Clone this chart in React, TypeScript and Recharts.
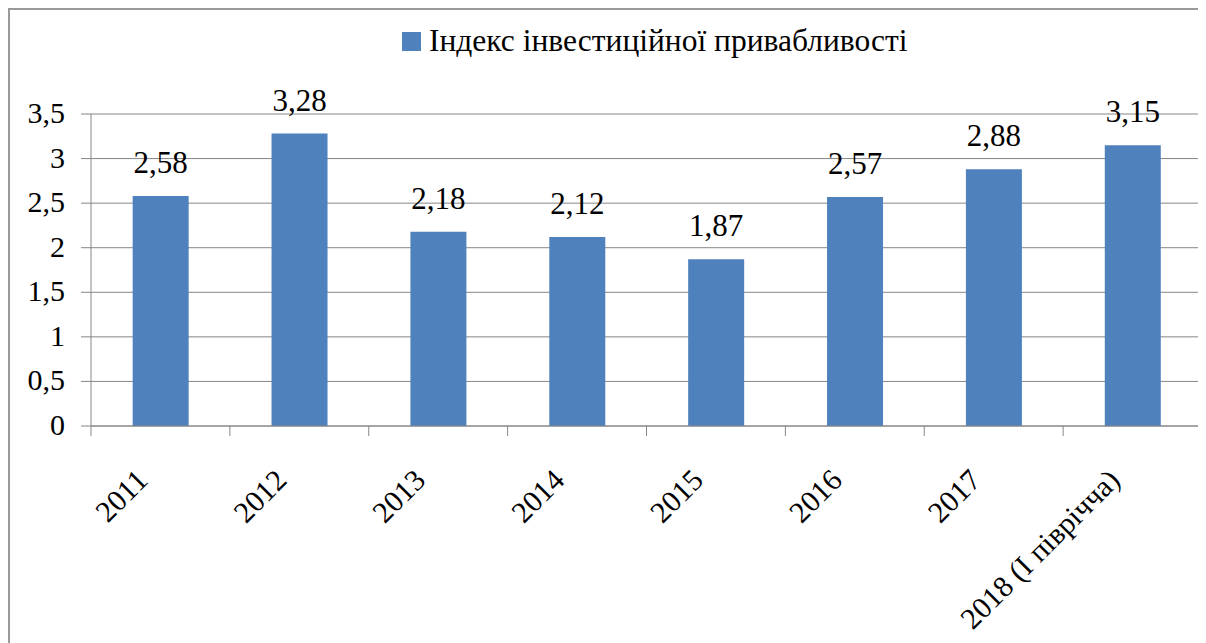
import { BarChart, Bar, XAxis, YAxis, CartesianGrid, Legend, LabelList } from "recharts"

// values
const categories = ["2011", "2012", "2013", "2014", "2015", "2016", "2017", "2018 (І півріччa)"]
const indexValues = [2.58, 3.28, 2.18, 2.12, 1.87, 2.57, 2.88, 3.15]
const yTicks = [0, 0.5, 1, 1.5, 2, 2.5, 3, 3.5]
const seriesName = "Індекс інвестиційної привабливості"

const FONT = "Liberation Serif"
const BLUE = "#4F81BD"
const GRID = "#868686"

const comma = (v: any) => String(v).replace(".", ",")

const data = categories.map((name, i) => ({ name, value: indexValues[i] }))

// category tick: boundary tick marks (Excel style) + rotated label
function CategoryTick(props: any) {
  const { x, y, payload, index } = props
  const half = payload?.offset || 0
  return (
    <g>
      <line x1={x - half} y1={y} x2={x - half} y2={y + 10} stroke={GRID} />
      {index === categories.length - 1 && (
        <line x1={x + half} y1={y} x2={x + half} y2={y + 10} stroke={GRID} />
      )}
      <text
        transform={`translate(${x - 11},${y + 56}) rotate(-45)`}
        textAnchor="end"
        fontSize={30}
        fontFamily={FONT}
        fill="#000"
      >
        {payload.value}
      </text>
    </g>
  )
}

function ValueTick(props: any) {
  const { x, y, payload } = props
  return (
    <text x={x} y={y} dy={9} textAnchor="end" fontSize={30} fontFamily={FONT} fill="#000">
      {comma(payload.value)}
    </text>
  )
}

function BarLabel(props: any) {
  const { x, y, width, value } = props
  return (
    <text x={x + width / 2} y={y - 23} textAnchor="middle" fontSize={31} fontFamily={FONT} fill="#000">
      {comma(value)}
    </text>
  )
}

function LegendContent() {
  return (
    <div style={{ display: "flex", alignItems: "center", whiteSpace: "nowrap" }}>
      <span style={{ display: "inline-block", width: 19, height: 19, background: BLUE, marginRight: 8 }} />
      <span style={{ fontFamily: FONT, fontSize: 31.5, color: "#000" }}>{seriesName}</span>
    </div>
  )
}

export default function App() {
  return (
    <div style={{ position: "relative", width: 1198, height: 635, overflow: "hidden", background: "#fff" }}>
      <style>{"html,body{overflow:hidden}"}</style>
      <BarChart
        width={1198}
        height={635}
        data={data}
        margin={{ top: 106, right: 4, bottom: 0, left: 0 }}
        barCategoryGap="30%"
      >
        <CartesianGrid vertical={false} stroke={GRID} />
        <Legend
          layout="horizontal"
          verticalAlign="middle"
          align="center"
          content={<LegendContent />}
          wrapperStyle={{ left: 394, top: 15, width: "auto" }}
        />
        <XAxis
          dataKey="name"
          interval={0}
          height={217}
          tickLine={false}
          tickSize={0}
          tickMargin={0}
          axisLine={{ stroke: GRID }}
          tick={<CategoryTick />}
        />
        <YAxis
          width={83}
          domain={[0, 3.5]}
          ticks={yTicks}
          tickSize={10}
          tickMargin={16}
          axisLine={{ stroke: GRID }}
          tickLine={{ stroke: GRID }}
          tick={<ValueTick />}
        />
        <Bar dataKey="value" name={seriesName} fill={BLUE} isAnimationActive={false}>
          <LabelList dataKey="value" content={<BarLabel />} />
        </Bar>
      </BarChart>
      <div
        style={{
          position: "absolute",
          left: 0,
          top: 0,
          right: -10,
          bottom: -10,
          borderTop: "2px solid #9a9a9a",
          borderLeft: "2px solid #9a9a9a",
          pointerEvents: "none",
        }}
      />
    </div>
  )
}
